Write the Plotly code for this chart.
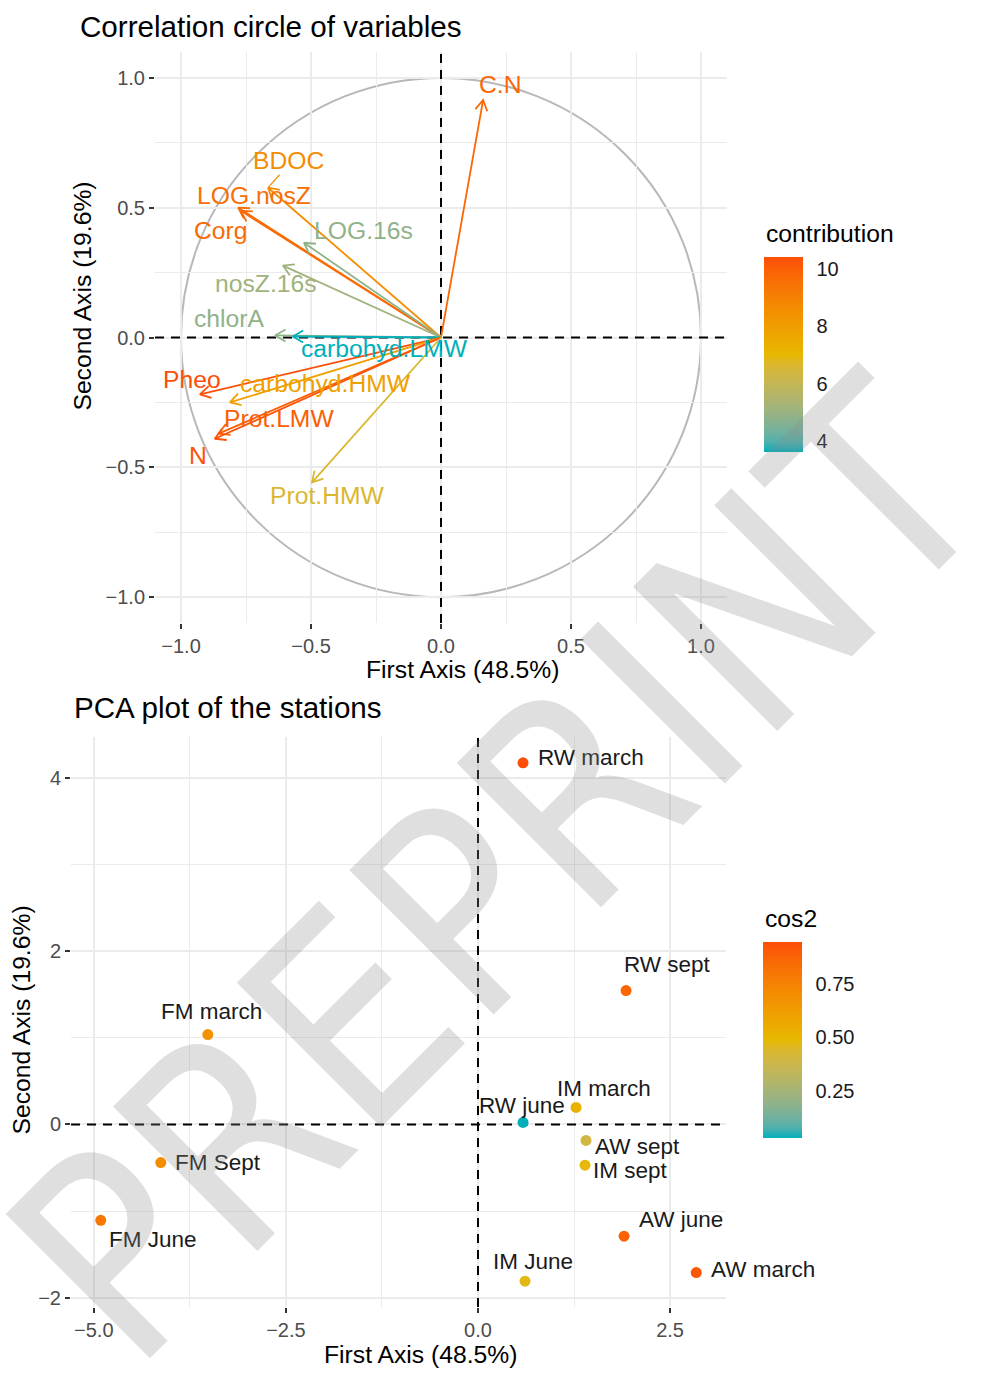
import numpy as np
import plotly.graph_objects as go

# ---------------- variables (correlation circle) ----------------
var_names = ["C.N", "BDOC", "LOG.nosZ", "Corg", "LOG.16s", "nosZ.16s", "chlorA",
             "carbohyd.LMW", "Pheo", "carbohyd.HMW", "Prot.LMW", "N", "Prot.HMW"]
var_dim1 = [0.162, -0.665, -0.780, -0.770, -0.527, -0.608, -0.638,
            -0.570, -0.927, -0.812, -0.855, -0.870, -0.496]
var_dim2 = [0.915, 0.577, 0.500, 0.488, 0.365, 0.277, 0.008,
            0.004, -0.219, -0.250, -0.370, -0.390, -0.558]
var_contrib = [9.8, 8.6, 9.6, 9.7, 4.8, 5.1, 4.8,
               3.58, 10.42, 7.9, 10.0, 10.3, 6.6]

# repelled label positions for the variable names (data units)
var_label_x = [0.227, -0.585, -0.719, -0.846, -0.300, -0.673, -0.812,
               -0.219, -0.958, -0.446, -0.623, -0.935, -0.438]
var_label_y = [0.973, 0.681, 0.546, 0.412, 0.412, 0.208, 0.073,
               -0.042, -0.162, -0.177, -0.312, -0.454, -0.608]
var_leader = ["BDOC"]  # labels that get a short connector segment

# ---------------- stations (individuals) ----------------
st_names = ["RW march", "RW sept", "FM march", "IM march", "RW june", "AW sept",
            "IM sept", "AW june", "AW march", "IM June", "FM Sept", "FM June"]
st_dim1 = [0.586, 1.927, -3.516, 1.276, 0.586, 1.406,
           1.393, 1.901, 2.840, 0.612, -4.128, -4.909]
st_dim2 = [4.175, 1.546, 1.038, 0.196, 0.023, -0.185,
           -0.470, -1.290, -1.710, -1.810, -0.440, -1.107]
st_cos2 = [0.95, 0.87, 0.68, 0.52, 0.03, 0.40,
           0.48, 0.88, 0.92, 0.47, 0.70, 0.80]

st_label_x = [1.471, 2.461, -3.464, 1.641, 0.573, 2.070,
              1.979, 2.643, 3.711, 0.716, -3.385, -4.232]
st_label_y = [4.233, 1.845, 1.303, 0.415, 0.219, -0.254,
              -0.531, -1.096, -1.672, -1.580, -0.438, -1.326]

axis1_title = "First Axis (48.5%)"
axis2_title = "Second Axis (19.6%)"

# ---------------- styling ----------------
W, H = 985, 1396
FONT = "Liberation Sans, Arial, Helvetica, sans-serif"
MARK_FONT = "Liberation Sans Narrow, DejaVu Sans Condensed, Liberation Sans, sans-serif"
GRAD = ["#00AFBB", "#E7B800", "#FC4E07"]
GRID = "#ebebeb"
TICKTXT = "#4d4d4d"
DASH = dict(color="black", width=2, dash="9px,7px")

# panel boxes in pixels: left, right, top, bottom
P1 = (155, 727, 52, 624)
P2 = (71, 726, 738, 1309)


# ---- Lab interpolation of the three-colour gradient ----
def _hex2rgb(h):
    h = h.lstrip("#")
    return [int(h[i:i + 2], 16) / 255 for i in (0, 2, 4)]


def _to_lab(rgb):
    lin = [c / 12.92 if c <= 0.04045 else ((c + 0.055) / 1.055) ** 2.4 for c in rgb]
    M = np.array([[0.4124, 0.3576, 0.1805], [0.2126, 0.7152, 0.0722], [0.0193, 0.1192, 0.9505]])
    xyz = M @ np.array(lin) / np.array([0.95047, 1.0, 1.08883])
    f = np.where(xyz > 0.008856, np.cbrt(xyz), 7.787 * xyz + 16 / 116)
    return np.array([116 * f[1] - 16, 500 * (f[0] - f[1]), 200 * (f[1] - f[2])])


def _from_lab(lab):
    fy = (lab[0] + 16) / 116
    fx = fy + lab[1] / 500
    fz = fy - lab[2] / 200
    f = np.array([fx, fy, fz])
    xyz = np.where(f ** 3 > 0.008856, f ** 3, (f - 16 / 116) / 7.787) * np.array([0.95047, 1.0, 1.08883])
    Minv = np.array([[3.2406, -1.5372, -0.4986], [-0.9689, 1.8758, 0.0415], [0.0557, -0.2040, 1.0570]])
    lin = Minv @ xyz
    rgb = [12.92 * c if c <= 0.0031308 else 1.055 * c ** (1 / 2.4) - 0.055 for c in lin]
    rgb = [min(1, max(0, c)) for c in rgb]
    return "#%02x%02x%02x" % tuple(int(round(c * 255)) for c in rgb)


_LABS = [_to_lab(_hex2rgb(c)) for c in GRAD]


def grad_color(t):
    t = min(1.0, max(0.0, t))
    if t <= 0.5:
        a, b, u = _LABS[0], _LABS[1], t / 0.5
    else:
        a, b, u = _LABS[1], _LABS[2], (t - 0.5) / 0.5
    return _from_lab(a + (b - a) * u)


COLORSCALE = [[s, grad_color(s)] for s in np.linspace(0, 1, 21)]


def domain_x(box):
    return [box[0] / W, box[1] / W]


def domain_y(box):
    return [1 - box[3] / H, 1 - box[2] / H]


def expand(vals, frac=0.05):
    lo, hi = min(vals), max(vals)
    pad = (hi - lo) * frac
    return [lo - pad, hi + pad]


def to_paper(v, rng, dom):
    return dom[0] + (v - rng[0]) / (rng[1] - rng[0]) * (dom[1] - dom[0])


fig = go.Figure()

# ---------------- top: correlation circle ----------------
r1x = [-1.1, 1.1]
r1y = [-1.1, 1.1]
ppu1 = (P1[1] - P1[0]) / (r1x[1] - r1x[0])  # pixels per unit
head = 12 / ppu1
cmin1, cmax1 = min(var_contrib), max(var_contrib)
var_colors = [grad_color((c - cmin1) / (cmax1 - cmin1)) for c in var_contrib]

# reference lines through the origin
fig.add_trace(go.Scatter(x=[0, 0, None, r1x[0], r1x[1]], y=[r1y[0], r1y[1], None, 0, 0],
                         mode="lines", line=DASH, hoverinfo="skip", showlegend=False,
                         xaxis="x", yaxis="y"))

for name, x, y, col in zip(var_names, var_dim1, var_dim2, var_colors):
    ang = np.arctan2(y, x)
    hx1 = x - head * np.cos(ang - np.pi / 6)
    hy1 = y - head * np.sin(ang - np.pi / 6)
    hx2 = x - head * np.cos(ang + np.pi / 6)
    hy2 = y - head * np.sin(ang + np.pi / 6)
    fig.add_trace(go.Scatter(
        x=[0, x, None, hx1, x, hx2], y=[0, y, None, hy1, y, hy2],
        mode="lines", line=dict(color=col, width=1.8),
        hoverinfo="skip", showlegend=False, xaxis="x", yaxis="y"))

for name, x, y, lx, ly, col in zip(var_names, var_dim1, var_dim2,
                                   var_label_x, var_label_y, var_colors):
    if name in var_leader:
        fig.add_trace(go.Scatter(
            x=[x, x + 0.55 * (lx - x)], y=[y, y + 0.48 * (ly - y)],
            mode="lines", line=dict(color=col, width=1.2),
            hoverinfo="skip", showlegend=False, xaxis="x", yaxis="y"))

# invisible carrier of the contribution colour bar
fig.add_trace(go.Scatter(
    x=var_dim1, y=var_dim2, mode="markers", xaxis="x", yaxis="y",
    marker=dict(size=1, opacity=0, color=var_contrib, colorscale=COLORSCALE,
                cmin=cmin1, cmax=cmax1, showscale=True,
                colorbar=dict(
                    x=764 / W, xanchor="left", xpad=0,
                    y=1 - 355.5 / H, yanchor="middle", ypad=0,
                    thicknessmode="pixels", thickness=39,
                    lenmode="pixels", len=195, outlinewidth=0,
                    tickvals=[4, 6, 8, 10], ticks="outside", ticklen=10,
                    tickcolor="rgba(0,0,0,0)",
                    tickfont=dict(family=FONT, size=20, color="#1a1a1a"))),
    hoverinfo="skip", showlegend=False))

# ---------------- bottom: individuals ----------------
r2x = expand(st_dim1)
r2y = expand(st_dim2)
cmin2, cmax2 = min(st_cos2), max(st_cos2)

fig.add_trace(go.Scatter(x=[0, 0, None, r2x[0], r2x[1]], y=[r2y[0], r2y[1], None, 0, 0],
                         mode="lines", line=DASH, hoverinfo="skip", showlegend=False,
                         xaxis="x2", yaxis="y2"))

fig.add_trace(go.Scatter(
    x=st_dim1, y=st_dim2, mode="markers", xaxis="x2", yaxis="y2",
    marker=dict(size=11, color=st_cos2, colorscale=COLORSCALE,
                cmin=cmin2, cmax=cmax2, showscale=True, line=dict(width=0),
                colorbar=dict(
                    x=763 / W, xanchor="left", xpad=0,
                    y=1 - 1041 / H, yanchor="middle", ypad=0,
                    thicknessmode="pixels", thickness=39,
                    lenmode="pixels", len=196, outlinewidth=0,
                    tickvals=[0.25, 0.5, 0.75], tickformat=".2f",
                    ticks="outside", ticklen=10, tickcolor="rgba(0,0,0,0)",
                    tickfont=dict(family=FONT, size=20, color="#1a1a1a"))),
    hoverinfo="text", text=st_names, showlegend=False))

# ---------------- axes ----------------
axis_common = dict(
    showgrid=True, gridcolor=GRID, gridwidth=1.6, zeroline=False, showline=False,
    ticks="outside", ticklen=5, tickwidth=2, tickcolor="#333333",
    tickfont=dict(family=FONT, size=20, color=TICKTXT),
)

layout = dict(
    width=W, height=H, margin=dict(l=0, r=0, t=0, b=0),
    paper_bgcolor="white", plot_bgcolor="white", showlegend=False,
    xaxis=dict(domain=domain_x(P1), range=r1x, anchor="y", tick0=0, dtick=0.5,
               tickformat=".1f",
               minor=dict(dtick=0.25, showgrid=True, gridcolor=GRID, gridwidth=1.0),
               **axis_common),
    yaxis=dict(domain=domain_y(P1), range=r1y, anchor="x", tick0=0, dtick=0.5,
               tickformat=".1f",
               minor=dict(dtick=0.25, showgrid=True, gridcolor=GRID, gridwidth=1.0),
               **axis_common),
    xaxis2=dict(domain=domain_x(P2), range=r2x, anchor="y2", tick0=0, dtick=2.5,
                tickformat=".1f",
                minor=dict(dtick=1.25, showgrid=True, gridcolor=GRID, gridwidth=1.0),
                **axis_common),
    yaxis2=dict(domain=domain_y(P2), range=r2y, anchor="x2", tick0=0, dtick=2,
                tickformat="d",
                minor=dict(dtick=1, showgrid=True, gridcolor=GRID, gridwidth=1.0),
                **axis_common),
)
fig.update_layout(**layout)

# unit circle
fig.add_shape(type="circle", xref="x", yref="y", x0=-1, y0=-1, x1=1, y1=1,
              line=dict(color="#b8b8b8", width=2), layer="below")

# ---------------- text ----------------
ann = []
for name, lx, ly, col in zip(var_names, var_label_x, var_label_y, var_colors):
    ann.append(dict(x=lx, y=ly, xref="x", yref="y", text=name, showarrow=False,
                    font=dict(family=FONT, size=24.7, color=col),
                    xanchor="center", yanchor="middle"))

dx2, dy2 = domain_x(P2), domain_y(P2)
for name, lx, ly in zip(st_names, st_label_x, st_label_y):
    ann.append(dict(x=to_paper(lx, r2x, dx2), y=to_paper(ly, r2y, dy2),
                    xref="paper", yref="paper", text=name, showarrow=False,
                    font=dict(family=FONT, size=22.5, color="#1a1a1a"),
                    xanchor="center", yanchor="middle"))


def paper_text(text, px, py, size, anchor="center", angle=0, color="black"):
    return dict(x=px / W, y=1 - py / H, xref="paper", yref="paper", text=text,
                showarrow=False, textangle=angle, xanchor=anchor, yanchor="middle",
                font=dict(family=FONT, size=size, color=color))


ann += [
    paper_text("Correlation circle of variables", 78, 27, 29.6, "left"),
    paper_text("PCA plot of the stations", 72, 709, 29.6, "left"),
    paper_text(axis1_title, 462, 670, 24.7),
    paper_text(axis2_title, 83, 297, 24.7, angle=-90),
    paper_text(axis1_title, 420, 1356, 24.7),
    paper_text(axis2_title, 22, 1022, 24.7, angle=-90),
    paper_text("contribution", 764, 234, 24.7, "left"),
    paper_text("cos2", 763, 920, 24.7, "left"),
]

# diagonal preprint watermark
ann.append(dict(x=500 / W, y=1 - 872 / H, xref="paper", yref="paper", text="PREPRINT",
                showarrow=False, textangle=-45, xanchor="center", yanchor="middle",
                font=dict(family=MARK_FONT, size=280,
                          color="rgba(140,140,140,0.28)")))

fig.update_layout(annotations=ann)
fig.write_html("out.html")
